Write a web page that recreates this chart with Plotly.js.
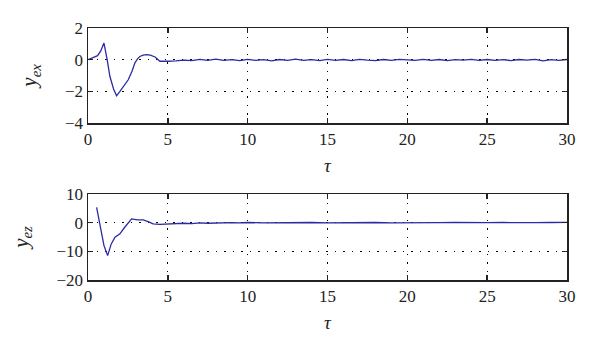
<!DOCTYPE html>
<html>
<head>
<meta charset="utf-8">
<script src="https://cdn.plot.ly/plotly-3.0.1.min.js"></script>
<style>html,body{margin:0;padding:0;background:#fff}#plot{width:600px;height:348px}</style>
</head>
<body>
<div id="plot"></div>
<script>
// Top panel: y_ex vs tau
const tauEx = [0, 0.3, 0.6, 0.8, 1.0, 1.2, 1.37, 1.6, 1.79, 2.0, 2.25, 2.52, 2.75, 2.94, 3.1, 3.25, 3.45, 3.67, 3.9, 4.2, 4.5, 4.8,
  5.0, 5.5, 6.0, 6.5, 7.0, 7.5, 8.0, 8.5, 9.0, 9.5, 10.0, 10.5, 11.0, 11.5, 12.0, 12.5, 13.0, 13.5, 14.0, 14.5, 15.0,
  15.5, 16.0, 16.5, 17.0, 17.5, 18.0, 18.5, 19.0, 19.5, 20.0, 20.5, 21.0, 21.5, 22.0, 22.5, 23.0, 23.5, 24.0, 24.5, 25.0,
  25.5, 26.0, 26.5, 27.0, 27.5, 28.0, 28.5, 29.0, 29.5, 30.0];
const yEx = [0, 0.1, 0.25, 0.55, 1.05, 0.0, -1.05, -1.85, -2.28, -2.0, -1.65, -1.27, -0.75, -0.2, 0.05, 0.2, 0.28, 0.32, 0.28, 0.17, -0.1, -0.12,
  -0.1, -0.08, -0.03, -0.06, 0.02, -0.05, 0.03, -0.04, 0.0, -0.06, 0.02, -0.05, 0.0, -0.08, 0.01, -0.04, 0.03, -0.05, 0.0, -0.06, 0.02,
  -0.04, 0.01, -0.06, 0.02, -0.03, -0.06, 0.01, -0.05, 0.02, 0.0, -0.05, 0.02, -0.04, 0.01, -0.06, 0.0, -0.03, 0.02, -0.05, 0.01,
  -0.04, 0.0, -0.06, 0.01, -0.03, 0.02, -0.07, 0.0, -0.05, 0.01];

// Bottom panel: y_ez vs tau
const tauEz = [0.54, 0.8, 1.0, 1.23, 1.45, 1.69, 2.0, 2.3, 2.73, 3.1, 3.46, 3.8, 4.08, 4.5, 5.0, 5.5,
  6.0, 6.5, 7.0, 7.5, 8.0, 8.5, 9.0, 9.5, 10.0, 11.0, 12.0, 13.0, 14.0, 15.0, 16.0, 17.0, 18.0, 19.0, 20.0,
  21.0, 22.0, 23.0, 24.0, 25.0, 26.0, 27.0, 28.0, 29.0, 30.0];
const yEz = [5.3, -3.0, -8.0, -11.5, -7.5, -5.1, -3.9, -1.6, 1.3, 1.0, 0.95, 0.3, -0.45, -0.6, -0.45, -0.3,
  -0.2, -0.3, -0.1, -0.2, -0.05, -0.15, 0.0, -0.1, 0.05, -0.1, 0.0, -0.05, 0.05, -0.1, 0.0, -0.05, 0.05, -0.05, 0.05,
  -0.05, 0.0, 0.05, -0.05, 0.0, 0.05, -0.05, 0.0, 0.05, 0.1];

const xTicks = [0, 5, 10, 15, 20, 25, 30];
const yExTicks = [-4, -2, 0, 2];
const yEzTicks = [-20, -10, 0, 10];

const lineColor = '#2b2ba3';
const serif = 'Liberation Serif';

const traces = [
  {x: tauEx, y: yEx, xaxis: 'x', yaxis: 'y', mode: 'lines', line: {color: lineColor, width: 1.3}, hoverinfo: 'skip'},
  {x: tauEz, y: yEz, xaxis: 'x2', yaxis: 'y2', mode: 'lines', line: {color: lineColor, width: 1.3}, hoverinfo: 'skip'}
];

function xAxis(anchor) {
  return {
    domain: [88/600, 567/600], anchor: anchor, range: [0, 30], tickvals: xTicks, ticktext: xTicks.map(String),
    showgrid: true, gridcolor: '#000', griddash: '1.5px,7px', gridwidth: 1.2,
    showline: true, linecolor: '#222', linewidth: 1.5, mirror: 'ticks',
    ticks: 'inside', ticklen: 5, tickcolor: '#222', tickwidth: 1.5,
    zeroline: false, tickfont: {family: serif, size: 17, color: '#222'},
    title: {text: '<i>τ</i>', font: {family: serif, size: 19, color: '#222'}, standoff: 11}
  };
}
function yAxis(anchor, dom, rng, ticks, label) {
  return {
    domain: dom, anchor: anchor, range: rng, tickvals: ticks, ticktext: ticks.map(v => v < 0 ? '\u2212' + Math.abs(v) : String(v)),
    showgrid: true, gridcolor: '#000', griddash: '1.5px,7px', gridwidth: 1.2,
    showline: true, linecolor: '#222', linewidth: 1.5, mirror: 'ticks',
    ticks: 'inside', ticklen: 5, tickcolor: '#222', tickwidth: 1.5,
    zeroline: false, tickfont: {family: serif, size: 17, color: '#222'},
    title: {text: label, font: {family: serif, size: 21, color: '#222'}, standoff: 22}
  };
}

const layout = {
  width: 600, height: 348, margin: {l: 0, r: 0, t: 0, b: 0},
  paper_bgcolor: '#fff', plot_bgcolor: '#fff', showlegend: false,
  font: {family: serif},
  xaxis: xAxis('y'),
  yaxis: yAxis('x', [1 - 123/348, 1 - 28/348], [-4, 2], yExTicks, '<i>y</i><sub><i>ex</i></sub>'),
  xaxis2: xAxis('y2'),
  yaxis2: yAxis('x2', [1 - 280/348, 1 - 194/348], [-20, 10], yEzTicks, '<i>y</i><sub><i>ez</i></sub>')
};

Plotly.newPlot('plot', traces, layout, {staticPlot: true, displayModeBar: false});
</script>
</body>
</html>
